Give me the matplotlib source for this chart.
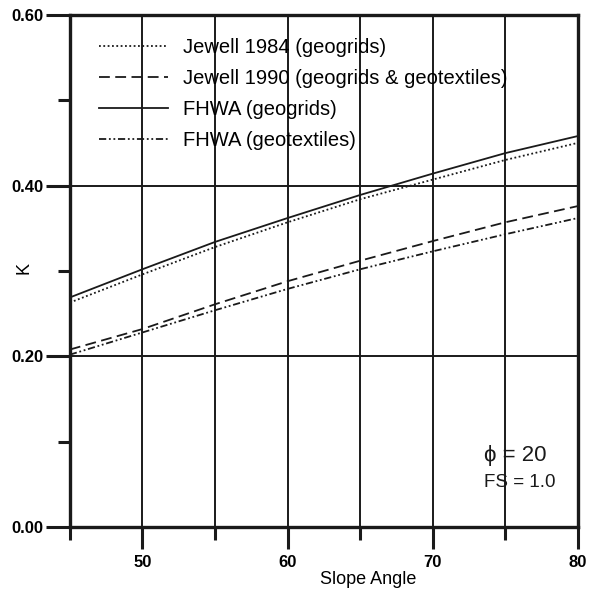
import matplotlib
matplotlib.use("Agg")
import matplotlib.pyplot as plt
from matplotlib.ticker import FixedLocator

plt.rcParams['font.family'] = ['Liberation Sans', 'DejaVu Sans']

# slope angle (deg)
angles = [45, 50, 55, 60, 65, 70, 75, 80]

# K values
jewell_1984 = [0.263, 0.296, 0.328, 0.357, 0.384, 0.407, 0.430, 0.450]
jewell_1990 = [0.208, 0.232, 0.261, 0.288, 0.312, 0.335, 0.357, 0.376]
fhwa_geogrids = [0.269, 0.302, 0.334, 0.362, 0.389, 0.414, 0.438, 0.458]
fhwa_geotextiles = [0.202, 0.228, 0.254, 0.279, 0.302, 0.323, 0.343, 0.362]

labels = ["Jewell 1984 (geogrids)",
          "Jewell 1990 (geogrids & geotextiles)",
          "FHWA (geogrids)",
          "FHWA (geotextiles)"]

ink = "#1a1a1a"

fig = plt.figure(figsize=(5.97, 5.91), dpi=100)
ax = fig.add_axes([0.117, 0.108, 0.851, 0.867])

# grid
for gx in [50, 55, 60, 65, 70, 75]:
    ax.axvline(gx, color=ink, lw=1.4, zorder=1)
for gy in [0.2, 0.4]:
    ax.axhline(gy, color=ink, lw=1.4, zorder=1)

ax.plot(angles, jewell_1984, color=ink, lw=1.3, ls=(0, (1, 1.4)), label=labels[0], zorder=3)
ax.plot(angles, jewell_1990, color=ink, lw=1.3, ls=(0, (6, 3)), label=labels[1], zorder=3)
ax.plot(angles, fhwa_geogrids, color=ink, lw=1.3, ls='-', label=labels[2], zorder=3)
ax.plot(angles, fhwa_geotextiles, color=ink, lw=1.3, ls=(0, (4, 1.5, 1, 1.5, 1, 1.5)), label=labels[3], zorder=3)

ax.set_xlim(45, 80)
ax.set_ylim(0, 0.60)

ax.xaxis.set_major_locator(FixedLocator([50, 60, 70, 80]))
ax.xaxis.set_minor_locator(FixedLocator([45, 55, 65, 75]))
ax.yaxis.set_major_locator(FixedLocator([0.0, 0.2, 0.4, 0.6]))
ax.yaxis.set_minor_locator(FixedLocator([0.1, 0.3, 0.5]))
ax.set_yticklabels(["0.00", "0.20", "0.40", "0.60"])

ax.tick_params(which='major', direction='out', length=16, width=2.2, color=ink,
               labelsize=12, pad=3)
ax.tick_params(which='minor', direction='out', length=9, width=2.2, color=ink)
ax.tick_params(axis='y', which='major', length=17, pad=2)
ax.tick_params(axis='x', which='major', pad=4)
for lab in ax.get_xticklabels() + ax.get_yticklabels():
    lab.set_fontweight('bold')

for sp in ax.spines.values():
    sp.set_linewidth(2.4)
    sp.set_color(ink)

ax.set_xlabel("Slope Angle", fontsize=13)
ax.xaxis.set_label_coords(0.587, -0.085)
ax.set_ylabel("K", fontsize=13)
ax.yaxis.set_label_coords(-0.074, 0.505)

ax.legend(loc='upper left', bbox_to_anchor=(0.022, 0.99), frameon=False,
          fontsize=14.5, handlelength=3.4, handletextpad=0.75, labelspacing=0.6)

ax.text(73.5, 0.084, "\u03d5 = 20", fontsize=16, va='center', ha='left', color=ink)
ax.text(73.5, 0.052, "FS = 1.0", fontsize=13.5, va='center', ha='left', color=ink)

fig.savefig("out.png", dpi=100)
